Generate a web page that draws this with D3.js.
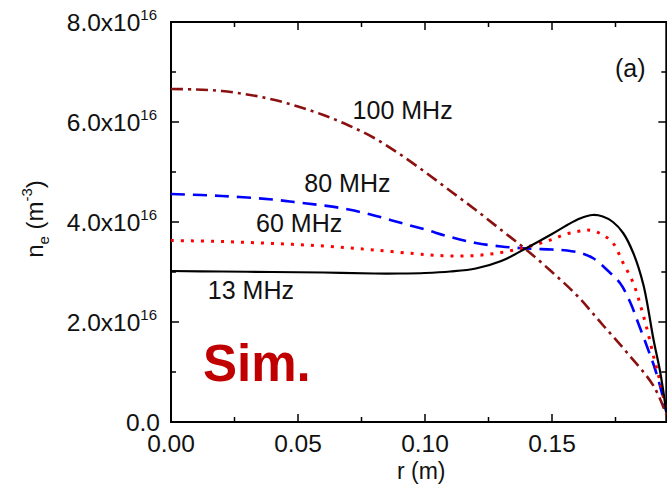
<html>
<head>
<script src="https://cdn.jsdelivr.net/npm/d3@7"></script>
<style>
  body { margin: 0; background: #fff; }
  text { font-family: "Liberation Sans", Arial, sans-serif; fill: #111; }
</style>
</head>
<body>
<div id="chart"></div>
<script>
// radius (m) and density (1e16 m^-3)
var r13 = [0, 0.02, 0.04, 0.06, 0.08, 0.09, 0.10, 0.11, 0.12, 0.13, 0.14, 0.15, 0.156, 0.161, 0.166, 0.17, 0.174, 0.178, 0.182, 0.186, 0.19, 0.1927, 0.195];
var n13 = [3.02, 3.01, 3.00, 2.99, 2.97, 2.97, 2.98, 3.01, 3.07, 3.22, 3.48, 3.76, 3.94, 4.07, 4.14, 4.11, 4.00, 3.78, 3.38, 2.74, 1.64, 0.97, 0.20];

var r60 = [0, 0.02, 0.04, 0.06, 0.08, 0.10, 0.11, 0.12, 0.13, 0.14, 0.15, 0.155, 0.16, 0.164, 0.169, 0.174, 0.178, 0.182, 0.185, 0.1875, 0.19, 0.1927, 0.195];
var n60 = [3.63, 3.61, 3.57, 3.52, 3.44, 3.35, 3.32, 3.33, 3.39, 3.50, 3.65, 3.75, 3.81, 3.84, 3.77, 3.58, 3.18, 2.78, 2.30, 1.84, 1.31, 0.77, 0.20];

var r80 = [0, 0.02, 0.04, 0.05, 0.06, 0.07, 0.08, 0.09, 0.10, 0.11, 0.12, 0.13, 0.14, 0.15, 0.156, 0.162, 0.1664, 0.1717, 0.1769, 0.181, 0.184, 0.1874, 0.1907, 0.1933, 0.195];
var n80 = [4.56, 4.52, 4.45, 4.39, 4.33, 4.25, 4.13, 3.99, 3.85, 3.70, 3.58, 3.51, 3.47, 3.45, 3.43, 3.37, 3.27, 3.04, 2.77, 2.37, 1.97, 1.51, 1.04, 0.57, 0.20];

var r100 = [0, 0.01, 0.02, 0.03, 0.04, 0.05, 0.06, 0.07, 0.08, 0.09, 0.10, 0.11, 0.12, 0.13, 0.14, 0.15, 0.16, 0.17, 0.18, 0.19, 0.195];
var n100 = [6.66, 6.65, 6.62, 6.55, 6.45, 6.31, 6.14, 5.93, 5.68, 5.36, 5.00, 4.62, 4.24, 3.84, 3.44, 3.00, 2.52, 1.94, 1.36, 0.72, 0.15];

var xTicks = [0, 0.05, 0.10, 0.15];
var xMinor = [0.025, 0.075, 0.125, 0.175];
var yTicks = [0, 2, 4, 6, 8];
var yMinor = [1, 3, 5, 7];

var series = [
  {r: r100, n: n100, color: "#8b1010", dash: "12,5,3,5", width: 2.6},
  {r: r80, n: n80, color: "#0000ff", dash: "14,8", width: 2.6},
  {r: r60, n: n60, color: "#ff0000", dash: "3,7", width: 3},
  {r: r13, n: n13, color: "#000000", dash: null, width: 2.2}
];

var labels = [
  {text: "100 MHz", x: 0.0715, y: 6.06},
  {text: "80 MHz", x: 0.0525, y: 4.6},
  {text: "60 MHz", x: 0.0335, y: 3.8},
  {text: "13 MHz", x: 0.0145, y: 2.46}
];

var W = 667, H = 491;
var svg = d3.select("#chart").append("svg").attr("width", W).attr("height", H);

var x = d3.scaleLinear().domain([0, 0.195]).range([171, 666.3]);
var y = d3.scaleLinear().domain([0, 8]).range([422, 22]);

// frame
svg.append("rect")
  .attr("x", x(0)).attr("y", y(8))
  .attr("width", x(0.195) - x(0)).attr("height", y(0) - y(8))
  .attr("fill", "none").attr("stroke", "#000").attr("stroke-width", 2);

// ticks, all pointing inward
var tk = svg.append("g").attr("stroke", "#000").attr("stroke-width", 1.5);
xTicks.forEach(function(t) {
  tk.append("line").attr("x1", x(t)).attr("x2", x(t)).attr("y1", y(0)).attr("y2", y(0) - 8);
  tk.append("line").attr("x1", x(t)).attr("x2", x(t)).attr("y1", y(8)).attr("y2", y(8) + 8);
});
xMinor.forEach(function(t) {
  tk.append("line").attr("x1", x(t)).attr("x2", x(t)).attr("y1", y(0)).attr("y2", y(0) - 5);
  tk.append("line").attr("x1", x(t)).attr("x2", x(t)).attr("y1", y(8)).attr("y2", y(8) + 5);
});
yTicks.forEach(function(t) {
  tk.append("line").attr("x1", x(0)).attr("x2", x(0) + 8).attr("y1", y(t)).attr("y2", y(t));
  tk.append("line").attr("x1", x(0.195)).attr("x2", x(0.195) - 8).attr("y1", y(t)).attr("y2", y(t));
});
yMinor.forEach(function(t) {
  tk.append("line").attr("x1", x(0)).attr("x2", x(0) + 5).attr("y1", y(t)).attr("y2", y(t));
  tk.append("line").attr("x1", x(0.195)).attr("x2", x(0.195) - 5).attr("y1", y(t)).attr("y2", y(t));
});

// tick labels
xTicks.forEach(function(t) {
  svg.append("text").attr("x", x(t)).attr("y", y(0) + 30)
    .attr("text-anchor", "middle").attr("font-size", 24.5)
    .text(d3.format(".2f")(t));
});
yTicks.forEach(function(t) {
  var lab = svg.append("text").attr("x", x(0) - 14).attr("y", y(t) + 8.5)
    .attr("text-anchor", "end").attr("font-size", 24.5);
  if (t === 0) {
    lab.attr("x", x(0) - 11).text("0.0");
  } else {
    lab.append("tspan").text(d3.format(".1f")(t) + "x10");
    lab.append("tspan").attr("font-size", 15).attr("dy", -11).text("16");
  }
});

// axis titles
svg.append("text").attr("x", x(0.0985)).attr("y", 479)
  .attr("text-anchor", "middle").attr("font-size", 23).text("r (m)");

var yt = svg.append("text").attr("transform", "translate(43,219) rotate(-90)")
  .attr("text-anchor", "middle").attr("font-size", 24);
yt.append("tspan").text("n");
yt.append("tspan").attr("font-size", 15).attr("dy", 6).text("e");
yt.append("tspan").attr("dy", -6).text(" (m");
yt.append("tspan").attr("font-size", 15).attr("dy", -11).text("-3");
yt.append("tspan").attr("dy", 11).text(")");

// curves
var line = d3.line()
  .x(function(d) { return x(d[0]); })
  .y(function(d) { return y(d[1]); })
  .curve(d3.curveCatmullRom.alpha(0.5));

series.forEach(function(s) {
  svg.append("path")
    .datum(d3.zip(s.r, s.n))
    .attr("d", line)
    .attr("fill", "none")
    .attr("stroke", s.color)
    .attr("stroke-width", s.width)
    .attr("stroke-dasharray", s.dash);
});

labels.forEach(function(l) {
  svg.append("text").attr("x", x(l.x)).attr("y", y(l.y))
    .attr("font-size", 25).text(l.text);
});

svg.append("text").attr("x", 615).attr("y", 77).attr("font-size", 25).text("(a)");

svg.append("text").attr("x", 203).attr("y", 381)
  .attr("font-size", 51).attr("font-weight", "bold")
  .style("fill", "#c00000").text("Sim.");
</script>
</body>
</html>
